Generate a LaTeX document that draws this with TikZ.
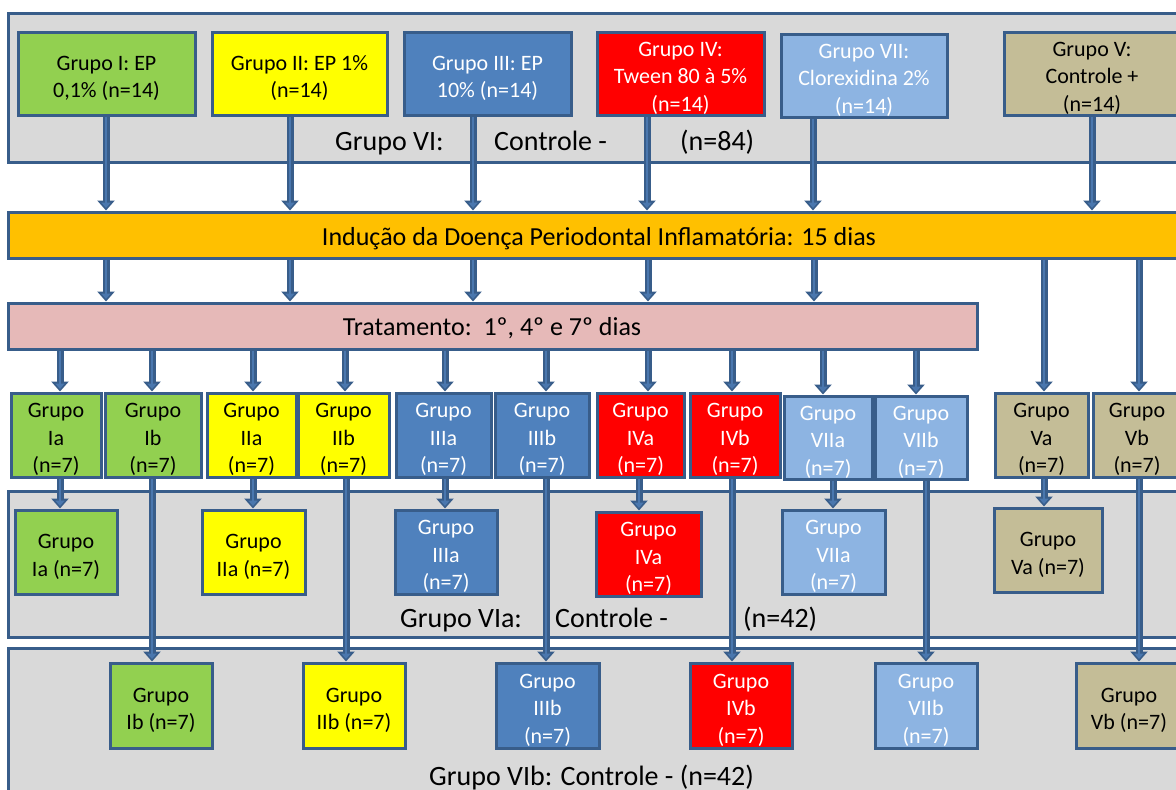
\documentclass[tikz,border=0pt]{standalone}
\usepackage{fontspec}
\setmainfont{Carlito}
\usetikzlibrary{arrows.meta,calc}
\definecolor{bordc}{HTML}{385D8A}
\definecolor{arrin}{HTML}{4A77AE}
\definecolor{panelc}{HTML}{D9D9D9}
\definecolor{greenc}{HTML}{92D050}
\definecolor{yellowc}{HTML}{FFFF00}
\definecolor{bluec}{HTML}{4F81BD}
\definecolor{redc}{HTML}{FF0000}
\definecolor{lbluec}{HTML}{8DB4E2}
\definecolor{tanc}{HTML}{C4BD97}
\definecolor{orangec}{HTML}{FFC000}
\definecolor{pinkc}{HTML}{E6B9B8}
\tikzset{
  bx/.style={draw=bordc, line width=3pt, inner sep=0pt, align=center, font=\fontsize{22}{27.5}\selectfont},
  grn/.style={bx, fill=greenc},
  ylw/.style={bx, fill=yellowc},
  blu/.style={bx, fill=bluec, text=white},
  rd/.style={bx, fill=redc, text=white},
  lbl/.style={bx, fill=lbluec, text=white},
  tn/.style={bx, fill=tanc},
  panel/.style={draw=bordc, line width=3pt, fill=panelc, inner sep=0pt},
  barbox/.style={draw=bordc, line width=3pt, inner sep=0pt},
  plab/.style={font=\fontsize{28}{34}\selectfont, anchor=base west, inner sep=0pt},
  blab/.style={font=\fontsize{26}{31}\selectfont, anchor=base, inner sep=0pt},
  arr/.style={draw=arrin, line width=2.5pt, -{Triangle[width=9pt,length=5.5pt]}, shorten >=2.5pt,
    preaction={draw=bordc, line width=7pt, -{Triangle[width=17pt,length=10pt]}, shorten >=0pt}},
}
\newcommand\bxn[7]{\node[#1, minimum width={(#5)-(#3)}, minimum height={(#6)-(#4)}] (#2) at ({((#3)+(#5))/2},{((#4)+(#6))/2}) {#7};}
\newcommand\tx{\rule{0pt}{24pt}}
\begin{document}
\begin{tikzpicture}[x=1pt,y=-1pt]
\useasboundingbox (0,0) rectangle (1176,790);
\clip (0,0) rectangle (1176,790);
\fill[white] (0,0) rectangle (1176,790);
% panels
\bxn{panel}{ptop}{8}{13}{1192}{162}{}
\bxn{panel}{pmid}{8}{491}{1192}{637}{}
\bxn{panel}{pbot}{8}{648}{1192}{805}{}
\node[plab] (l6) at (335,150) {Grupo VI:};
\node[plab] (l6c) at (494,150) {Controle -};
\node[plab] (l6n) at (680,150) {(n=84)};
\node[plab] (l6a) at (400,627) {Grupo VIa:};
\node[plab] (l6ac) at (555,627) {Controle -};
\node[plab] (l6an) at (743,627) {(n=42)};
\node[plab] (l6b) at (429,785) {Grupo VIb: Controle - (n=42)};
% bars
\bxn{barbox, fill=orangec}{induc}{8}{212}{1192}{258}{}
\node[blab] (inductxt) at (599,245) {Indução da Doença Periodontal Inflamatória: 15 dias};
\bxn{barbox, fill=pinkc}{trat}{8}{303}{977}{349}{}
\node[blab] (trattxt) at (492,335) {Tratamento:\ \ 1º, 4º e 7º dias};
% top boxes
\bxn{grn}{g1}{18}{32}{195}{115}{\tx Grupo I: EP\\0,1\% (n=14)}
\bxn{ylw}{g2}{212}{32}{387}{115}{\tx Grupo II: EP 1\%\\(n=14)}
\bxn{blu}{g3}{404}{32}{571}{115}{\tx Grupo III: EP\\10\% (n=14)}
\bxn{rd}{g4}{597}{32}{764}{115}{\tx Grupo IV:\\Tween 80 à 5\%\\(n=14)}
\bxn{lbl}{g7}{781}{34}{947}{117}{\tx Grupo VII:\\Clorexidina 2\%\\(n=14)}
\bxn{tn}{g5}{1004}{32}{1180}{115}{\tx Grupo V:\\Controle +\\(n=14)}
% sub boxes
\bxn{grn}{s1a}{11}{393}{101}{477}{\tx Grupo\\Ia\\(n=7)}
\bxn{grn}{s1b}{105}{393}{201}{477}{\tx Grupo\\Ib\\(n=7)}
\bxn{ylw}{s2a}{207}{393}{296}{477}{\tx Grupo\\IIa\\(n=7)}
\bxn{ylw}{s2b}{298}{393}{389}{477}{\tx Grupo\\IIb\\(n=7)}
\bxn{blu}{s3a}{396}{393}{491}{477}{\tx Grupo\\IIIa\\(n=7)}
\bxn{blu}{s3b}{495}{393}{589}{477}{\tx Grupo\\IIIb\\(n=7)}
\bxn{rd}{s4a}{597}{393}{684}{477}{\tx Grupo\\IVa\\(n=7)}
\bxn{rd}{s4b}{690}{393}{780}{477}{\tx Grupo\\IVb\\(n=7)}
\bxn{lbl}{s7a}{784}{396}{872}{479}{\tx Grupo\\VIIa\\(n=7)}
\bxn{lbl}{s7b}{875}{396}{967}{479}{\tx Grupo\\VIIb\\(n=7)}
\bxn{tn}{s5a}{995}{393}{1088}{477}{\tx Grupo\\Va\\(n=7)}
\bxn{tn}{s5b}{1093}{393}{1181}{477}{\tx Grupo\\Vb\\(n=7)}
% a boxes
\bxn{grn}{a1}{15}{510}{117}{594}{\tx Grupo\\Ia (n=7)}
\bxn{ylw}{a2}{202}{510}{305}{594}{\tx Grupo\\IIa (n=7)}
\bxn{blu}{a3}{395}{510}{497}{594}{\tx Grupo\\IIIa\\(n=7)}
\bxn{rd}{a4}{596}{512}{701}{596}{\tx Grupo\\IVa\\(n=7)}
\bxn{lbl}{a7}{782}{510}{885}{594}{\tx Grupo\\VIIa\\(n=7)}
\bxn{tn}{a5}{994}{508}{1102}{592}{\tx Grupo\\Va (n=7)}
% b boxes
\bxn{grn}{b1}{110}{663}{212}{748}{\tx Grupo\\Ib (n=7)}
\bxn{ylw}{b2}{303}{663}{405}{748}{\tx Grupo\\IIb (n=7)}
\bxn{blu}{b3}{496}{663}{599}{748}{\tx Grupo\\IIIb\\(n=7)}
\bxn{rd}{b4}{690}{663}{792}{748}{\tx Grupo\\IVb\\(n=7)}
\bxn{lbl}{b7}{875}{663}{977}{748}{\tx Grupo\\VIIb\\(n=7)}
\bxn{tn}{b5}{1076}{663}{1182}{748}{\tx Grupo\\Vb (n=7)}
% column coordinates
\foreach \n/\x in {c1/106,c2/290,c3/473,c4/647,c7/813,c5/1092,
  d4/648,d7/814,e5a/1044,e5b/1139,
  t1a/60,t1b/152,t2a/253,t2b/345,t3a/445,t3b/546,t4a/648,t4b/732,t7a/823,t7b/916,
  u1/60,u2/253,u3/445,u4/639,u7/833,u5/1044,
  v1/152,v2/346,v3/546,v4/732,v7/926,v5/1139}
  {\coordinate (\n) at (\x,0);}
% arrows top boxes -> induction
\draw[arr] (g1.south -| c1) -- (induc.north -| c1);
\draw[arr] (g2.south -| c2) -- (induc.north -| c2);
\draw[arr] (g3.south -| c3) -- (induc.north -| c3);
\draw[arr] (g4.south -| c4) -- (induc.north -| c4);
\draw[arr] (g7.south -| c7) -- (induc.north -| c7);
\draw[arr] (g5.south -| c5) -- (induc.north -| c5);
% induction -> treatment
\draw[arr] (induc.south -| c1) -- (trat.north -| c1);
\draw[arr] (induc.south -| c2) -- (trat.north -| c2);
\draw[arr] (induc.south -| c3) -- (trat.north -| c3);
\draw[arr] (induc.south -| d4) -- (trat.north -| d4);
\draw[arr] (induc.south -| d7) -- (trat.north -| d7);
% induction -> Va, Vb
\draw[arr] (induc.south -| e5a) -- (s5a.north -| e5a);
\draw[arr] (induc.south -| e5b) -- (s5b.north -| e5b);
% treatment -> sub boxes
\draw[arr] (trat.south -| t1a) -- (s1a.north -| t1a);
\draw[arr] (trat.south -| t1b) -- (s1b.north -| t1b);
\draw[arr] (trat.south -| t2a) -- (s2a.north -| t2a);
\draw[arr] (trat.south -| t2b) -- (s2b.north -| t2b);
\draw[arr] (trat.south -| t3a) -- (s3a.north -| t3a);
\draw[arr] (trat.south -| t3b) -- (s3b.north -| t3b);
\draw[arr] (trat.south -| t4a) -- (s4a.north -| t4a);
\draw[arr] (trat.south -| t4b) -- (s4b.north -| t4b);
\draw[arr] (trat.south -| t7a) -- (s7a.north -| t7a);
\draw[arr] (trat.south -| t7b) -- (s7b.north -| t7b);
% sub -> a boxes
\draw[arr] (s1a.south -| u1) -- (a1.north -| u1);
\draw[arr] (s2a.south -| u2) -- (a2.north -| u2);
\draw[arr] (s3a.south -| u3) -- (a3.north -| u3);
\draw[arr] (s4a.south -| u4) -- (a4.north -| u4);
\draw[arr] (s7a.south -| u7) -- (a7.north -| u7);
\draw[arr] (s5a.south -| u5) -- (a5.north -| u5);
% sub -> b boxes
\draw[arr] (s1b.south -| v1) -- (b1.north -| v1);
\draw[arr] (s2b.south -| v2) -- (b2.north -| v2);
\draw[arr] (s3b.south -| v3) -- (b3.north -| v3);
\draw[arr] (s4b.south -| v4) -- (b4.north -| v4);
\draw[arr] (s7b.south -| v7) -- (b7.north -| v7);
\draw[arr] (s5b.south -| v5) -- (b5.north -| v5);
\end{tikzpicture}
\end{document}
